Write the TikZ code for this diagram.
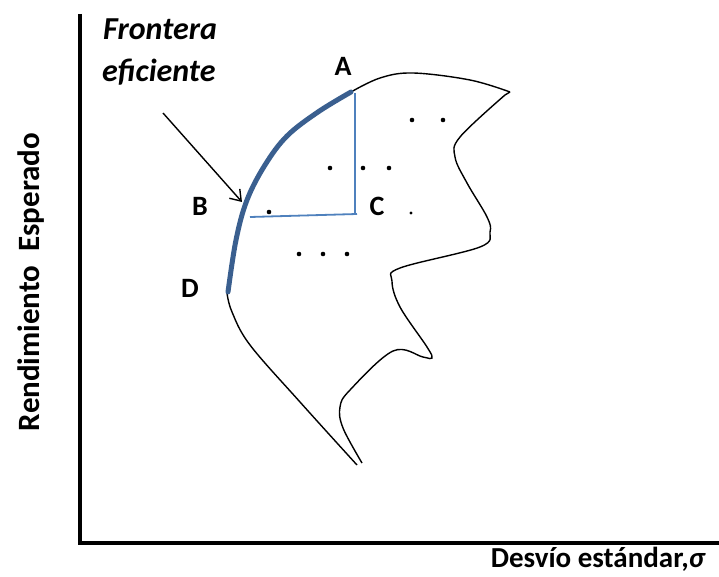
\documentclass[tikz,border=0pt]{standalone}
\usepackage{fontspec}
\setmainfont{Carlito}
\usetikzlibrary{arrows.meta}
\definecolor{frontblue}{HTML}{3A5F8F}
\definecolor{lineblue}{HTML}{4F81BD}
\tikzset{
  lbl/.style={font=\fontsize{28}{32}\selectfont\bfseries, inner sep=0pt},
  axlbl/.style={font=\fontsize{29}{33}\selectfont\bfseries, inner sep=0pt},
  ylbl/.style={font=\fontsize{31}{35}\selectfont\bfseries, inner sep=0pt},
  ttl/.style={font=\fontsize{32}{36}\selectfont\bfseries\itshape, inner sep=0pt},
  axis/.style={line width=4pt},
  outline/.style={line width=1.4pt, black},
  front/.style={line width=5pt, frontblue, line cap=round},
  guide/.style={line width=1.8pt, lineblue},
  pdot/.style={circle, fill=black, inner sep=0pt, minimum size=4.6pt}
}
\begin{document}
\begin{tikzpicture}[x=1pt,y=-1pt]
\useasboundingbox (0,0) rectangle (719,577);
% axes
\coordinate (O) at (80,543);
\coordinate (Ytop) at (80,14);
\coordinate (Xend) at (719,543);
\draw[axis] (Ytop) -- (O) -- (Xend);
% axis labels
\node[axlbl, anchor=base east] (xl) at (706,567) {Desvío estándar,\textit{σ}};
\node[ylbl, rotate=90] (yl) at (31,282) {Rendimiento\hspace{0.45em}Esperado};
% outline of feasible set
\draw[outline] plot[smooth, tension=0.6] coordinates {(227,293) (232,312) (250,345) (300,402) (357,465)};
\draw[outline] plot[smooth, tension=0.6] coordinates {(362,463) (343,428) (340,407) (350,390) (393,351) (423,357) (432,358) (427,347) (400,307) (392,281) (400,268) (480,247) (490,232) (487,217) (467,183) (455,157) (460,137) (505,95)};
\draw[outline] (505,95) -- (510,92);
\draw[outline] plot[smooth, tension=0.6] coordinates {(510,92) (470,80) (413,73) (380,78) (351,92)};
% efficient frontier
\draw[front] plot[smooth, tension=0.6] coordinates {(351,92) (318,112) (287,136) (265,165) (247,200) (236,240) (228,292)};
% guide lines
\coordinate (Atop) at (355,93);
\coordinate (Ccor) at (355,214);
\coordinate (Bl) at (250,217);
\coordinate (Cr) at (357,214);
\draw[guide] (Atop) -- (Ccor);
\draw[guide] (Bl) -- (Cr);
% labels
\node[lbl] (A) at (343,66) {A};
\node[lbl] (B) at (200,206) {B};
\node[lbl] (C) at (377,206) {C};
\node[lbl] (D) at (190,288) {D};
\node[ttl, anchor=base west] (ft) at (103,40) {Frontera};
\node[ttl, anchor=base west] (fe) at (102,82) {eficiente};
% arrow
\coordinate (arS) at (163,113);
\coordinate (arE) at (242,202);
\draw[line width=1.4pt, -{Straight Barb[length=10pt,width=14pt]}] (arS) -- (arE);
% dots
\foreach \p [count=\i] in {(412,120),(443,120),(330,168),(363,168),(389,168),(269,212),(299,254),(323,254),(347,254)}
  \node[pdot] (d\i) at \p {};
\node[pdot, minimum size=3.4pt] (d10) at (411,213) {};
\end{tikzpicture}
\end{document}
